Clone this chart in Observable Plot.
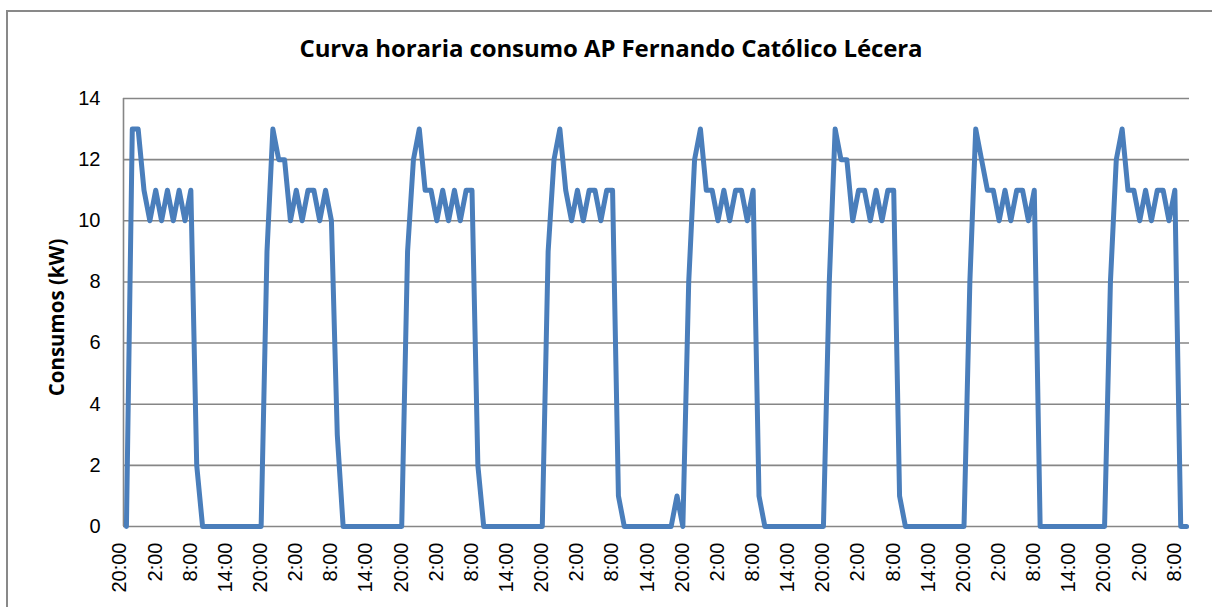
<!DOCTYPE html>
<html>
<head>
<meta charset="utf-8">
<script src="https://cdn.jsdelivr.net/npm/d3@7"></script>
<script src="https://cdn.jsdelivr.net/npm/@observablehq/plot@0.6"></script>
<style>
  html, body { margin: 0; padding: 0; background: #fff; }
  body { width: 1212px; height: 607px; overflow: hidden; position: relative; font-family: "Liberation Sans", Arial, sans-serif; }
  #frame { position: absolute; left: 6px; top: 10px; width: 1400px; height: 800px; border: 2px solid #898989; box-sizing: border-box; }
  #title { position: absolute; left: 0; width: 1222px; top: 32px; text-align: center; font-family: "Open Sans", Lato, sans-serif; font-weight: bold; font-size: 24px; line-height: 32px; color: #000; letter-spacing: -0.1px; }
  #chart { position: absolute; left: 0; top: 80px; }
</style>
</head>
<body>
<div id="frame"></div>
<div id="title">Curva horaria consumo AP Fernando Católico Lécera</div>
<div id="chart"></div>
<script>
// Hourly consumption (kW), one value per hour starting at 20:00
const consumo = [
  // day 1 (20:00 -> 19:00)
  0, 13, 13, 11, 10, 11, 10, 11, 10, 11, 10, 11, 2, 0, 0, 0, 0, 0, 0, 0, 0, 0, 0, 0,
  // day 2
  9, 13, 12, 12, 10, 11, 10, 11, 11, 10, 11, 10, 3, 0, 0, 0, 0, 0, 0, 0, 0, 0, 0, 0,
  // day 3
  9, 12, 13, 11, 11, 10, 11, 10, 11, 10, 11, 11, 2, 0, 0, 0, 0, 0, 0, 0, 0, 0, 0, 0,
  // day 4
  9, 12, 13, 11, 10, 11, 10, 11, 11, 10, 11, 11, 1, 0, 0, 0, 0, 0, 0, 0, 0, 0, 1, 0,
  // day 5
  8, 12, 13, 11, 11, 10, 11, 10, 11, 11, 10, 11, 1, 0, 0, 0, 0, 0, 0, 0, 0, 0, 0, 0,
  // day 6
  8, 13, 12, 12, 10, 11, 11, 10, 11, 10, 11, 11, 1, 0, 0, 0, 0, 0, 0, 0, 0, 0, 0, 0,
  // day 7
  8, 13, 12, 11, 11, 10, 11, 10, 11, 11, 10, 11, 0, 0, 0, 0, 0, 0, 0, 0, 0, 0, 0, 0,
  // day 8 (20:00 -> 9:00)
  8, 12, 13, 11, 11, 10, 11, 10, 11, 11, 10, 11, 0, 0
];

// Category-axis labels, shown every 6 hours
const etiquetas = [
  "20:00", "2:00", "8:00", "14:00",
  "20:00", "2:00", "8:00", "14:00",
  "20:00", "2:00", "8:00", "14:00",
  "20:00", "2:00", "8:00", "14:00",
  "20:00", "2:00", "8:00", "14:00",
  "20:00", "2:00", "8:00", "14:00",
  "20:00", "2:00", "8:00", "14:00",
  "20:00", "2:00", "8:00"
];
const intervaloEtiquetas = 6;

const yTicks = [0, 2, 4, 6, 8, 10, 12, 14];

const data = consumo.map((v, i) => ({ i, v }));
const labelData = etiquetas.map((t, k) => ({ i: k * intervaloEtiquetas, t }));

const chart = Plot.plot({
  width: 1212,
  height: 527,
  marginTop: 18,
  marginBottom: 81,
  marginLeft: 123,
  marginRight: 23,
  style: { fontFamily: "'Liberation Sans', Arial, sans-serif", fontSize: "20px", color: "#000", background: "transparent" },
  x: { type: "linear", domain: [-0.5, consumo.length - 0.5], axis: null },
  y: { domain: [0, 14], axis: null },
  marks: [
    Plot.ruleY(yTicks, { stroke: "#868686", strokeWidth: 1.6 }),
    Plot.ruleX([-0.5], { y1: 0, y2: 14, stroke: "#868686", strokeWidth: 1.6 }),
    Plot.line(data, { x: "i", y: "v", stroke: "#4A7EBB", strokeWidth: 5, strokeLinejoin: "round", strokeLinecap: "round" }),
    Plot.text(yTicks, { x: -0.5, y: d => d, text: d => String(d), textAnchor: "end", dx: -23, fontSize: 20, fill: "#000" }),
    Plot.text(labelData, { x: "i", frameAnchor: "bottom", text: "t", rotate: -90, textAnchor: "end", dy: 16, fontSize: 20, fill: "#000" }),
    Plot.text(["Consumos (kW)"], { frameAnchor: "left", dx: -66, dy: 5, rotate: -90, textAnchor: "middle", fontWeight: "bold", fontSize: 20.5, fontFamily: "'Open Sans', Lato, sans-serif", fill: "#000" })
  ]
});
document.getElementById("chart").appendChild(chart);
</script>
</body>
</html>
